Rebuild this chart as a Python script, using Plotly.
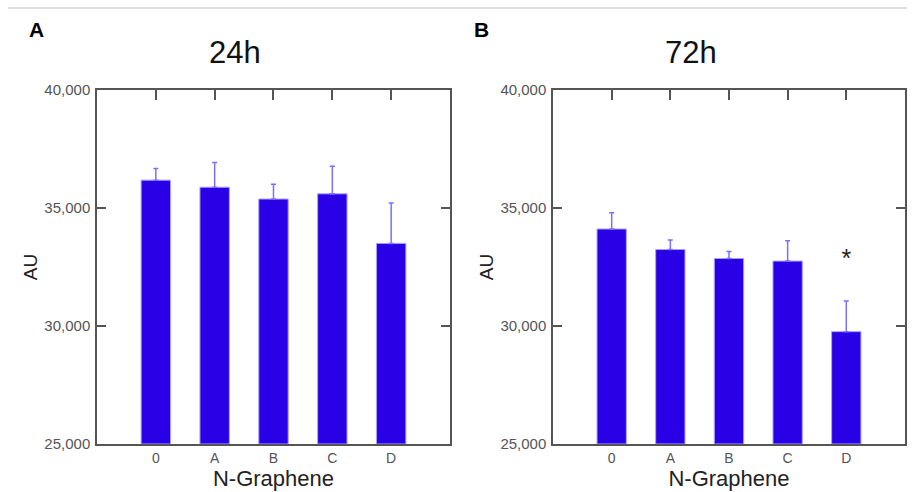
import plotly.graph_objects as go

categories = ["0", "A", "B", "C", "D"]
values_24h = [36180, 35880, 35380, 35600, 33500]
err_top_24h = [36670, 36930, 36010, 36770, 35210]
values_72h = [34110, 33240, 32860, 32750, 29760]
err_top_72h = [34800, 33640, 33160, 33610, 31060]
star_72h = ["", "", "", "", "*"]
star_y_72h = [None, None, None, None, 32750]
y_ticks = [25000, 30000, 35000, 40000]
y_ticktext = ["25,000", "30,000", "35,000", "40,000"]

BAR = "#2a00e6"
EDGE = "#a8a0ff"
ERR = "#7a70ff"
FONT = "Liberation Sans, Arial, sans-serif"

fig = go.Figure()

def add_panel(vals, tops, xa, ya):
    fig.add_trace(go.Bar(
        x=categories, y=[v - 25000 for v in vals], base=25000,
        xaxis=xa, yaxis=ya, width=0.5,
        marker=dict(color=BAR, line=dict(color=EDGE, width=1)),
        error_y=dict(type="data", symmetric=False,
                     array=[t - v for t, v in zip(tops, vals)],
                     arrayminus=[0] * len(vals),
                     color=ERR, thickness=1.5, width=2.5),
        showlegend=False, hoverinfo="skip"))

add_panel(values_24h, err_top_24h, "x", "y")
add_panel(values_72h, err_top_72h, "x2", "y2")

# invisible traces for top tick axes
fig.add_trace(go.Scatter(x=categories, y=[None] * 5, xaxis="x3", yaxis="y",
                         showlegend=False, hoverinfo="skip"))
fig.add_trace(go.Scatter(x=categories, y=[None] * 5, xaxis="x4", yaxis="y2",
                         showlegend=False, hoverinfo="skip"))

# asterisk
fig.add_trace(go.Scatter(x=categories, y=star_y_72h, text=star_72h, mode="text",
                         textfont=dict(size=25, color="#222", family=FONT),
                         xaxis="x2", yaxis="y2", showlegend=False, hoverinfo="skip"))

dA = [0.106, 0.4918]
dB = [0.6044, 0.989]
dy = [0.0976, 0.8171]

xcommon = dict(type="category", range=[-1, 5], showline=True, linecolor="#555",
               linewidth=1.5, ticks="", mirror=True, showgrid=False, automargin=False,
               tickfont=dict(size=14, color="#555", family=FONT),
               title=dict(text="N-Graphene", font=dict(size=22, color="#222", family=FONT), standoff=2))
ycommon = dict(range=[25000, 40000], tickvals=y_ticks, ticktext=y_ticktext,
               showline=True, linecolor="#555", linewidth=1.5, ticks="inside",
               ticklen=9, tickcolor="#555", tickwidth=1.5, mirror="ticks", showgrid=False,
               zeroline=False, automargin=False, ticklabelstandoff=2,
               tickfont=dict(size=15, color="#555", family=FONT),
               title=dict(text="AU", font=dict(size=19, color="#222", family=FONT), standoff=2))
topcommon = dict(type="category", range=[-1, 5], side="top", automargin=False,
                 ticks="inside", ticklen=10, tickcolor="#555", tickwidth=1.5,
                 showticklabels=False, showline=False, showgrid=False)

fig.update_layout(
    width=915, height=492,
    margin=dict(l=0, r=0, t=0, b=0, pad=0),
    plot_bgcolor="white", paper_bgcolor="white",
    xaxis=dict(domain=dA, anchor="y", **xcommon),
    yaxis=dict(domain=dy, anchor="x", **ycommon),
    xaxis2=dict(domain=dB, anchor="y2", **xcommon),
    yaxis2=dict(domain=dy, anchor="x2", **ycommon),
    xaxis3=dict(**topcommon, overlaying="x", anchor="y"),
    xaxis4=dict(**topcommon, overlaying="x2", anchor="y2"),
)

fig.add_annotation(text="24h", x=235 / 915, y=1 - 52 / 492, xref="paper", yref="paper",
                   xanchor="center", yanchor="middle",
                   showarrow=False, font=dict(size=31, color="#111", family=FONT))
fig.add_annotation(text="72h", x=691 / 915, y=1 - 52 / 492, xref="paper", yref="paper",
                   xanchor="center", yanchor="middle",
                   showarrow=False, font=dict(size=31, color="#111", family=FONT))
fig.add_annotation(text="<b>A</b>", x=36 / 915, y=1 - 29 / 492, xref="paper", yref="paper",
                   xanchor="center", yanchor="middle",
                   showarrow=False, font=dict(size=21, color="#000", family=FONT))
fig.add_annotation(text="<b>B</b>", x=482 / 915, y=1 - 29 / 492, xref="paper", yref="paper",
                   xanchor="center", yanchor="middle",
                   showarrow=False, font=dict(size=21, color="#000", family=FONT))
fig.add_shape(type="line", xref="paper", yref="paper", x0=8 / 915, x1=907 / 915,
              y0=1 - 8 / 492, y1=1 - 8 / 492, line=dict(color="#d4d4d4", width=1.5))

fig.write_html("out.html")
